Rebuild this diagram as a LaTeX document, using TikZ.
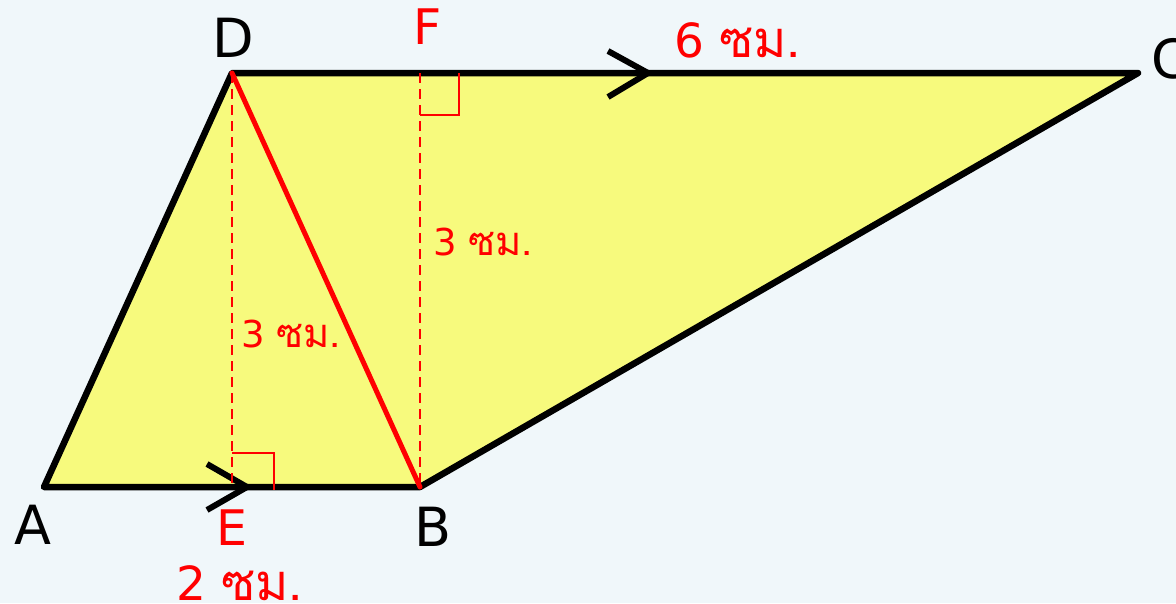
\documentclass[tikz,border=0pt]{standalone}
\usepackage{fontspec}
\setmainfont{DejaVu Sans}
\newfontfamily\thaifont[Script=Thai,Scale=1.08]{Loma}
\usetikzlibrary{positioning}
\definecolor{bgblue}{HTML}{F0F7FA}
\definecolor{padyellow}{HTML}{F7FA7D}

\begin{document}
\begin{tikzpicture}[x=1pt, y=-1pt,
  every node/.style={inner sep=0pt},
  side/.style  ={line width=6.5pt, black, line join=round},
  diag/.style  ={line width=5pt, red, line cap=round},
  height/.style={line width=1.6pt, red, dash pattern=on 10pt off 6pt},
  corner/.style={line width=1.6pt, red},
  chev/.style  ={line width=6pt, black, line join=miter},
  pt/.style    ={font=\fontsize{54}{60}\selectfont},
  redpt/.style ={font=\fontsize{49}{56}\selectfont, text=red},
  len/.style   ={font=\fontsize{47}{54}\selectfont, text=red},
  lensm/.style ={font=\fontsize{37}{42}\selectfont, text=red},
]

% Background
\fill[bgblue] (0,0) rectangle (1176,603);
\useasboundingbox (0,0) rectangle (1176,603);

% Points
\coordinate (A) at (44,487);
\coordinate (B) at (420,487);
\coordinate (C) at (1138,73);
\coordinate (D) at (232,73);
\coordinate (E) at (232,487);
\coordinate (F) at (420,73);

% Trapezium
\fill[padyellow] (A) -- (B) -- (C) -- (D) -- cycle;
\draw[side] (A) -- (B) -- (C) -- (D) -- cycle;

% Parallel marks
\coordinate (abtip) at (247,487);
\coordinate (dctip) at (648,73);
\draw[chev] ([shift={(-40,-23)}]abtip) -- (abtip) -- ([shift={(-40,23)}]abtip);
\draw[chev] ([shift={(-40,-22)}]dctip) -- (dctip) -- ([shift={(-40,24)}]dctip);

% Heights
\draw[height] (D) -- (E);
\draw[height] (F) -- (B);
\draw[corner] (232,453) -- (274,453) -- (274,490);
\draw[corner] (420,115) -- (459,115) -- (459,73);

% Diagonal
\draw[diag] (D) -- (B);

% Vertex labels
\node[pt] (lA) at (33,525) {A};
\node[pt] (lB) at (433,527) {B};
\node[pt, anchor=west] (lC) at (1151,59) {C};
\node[pt] (lD) at (233,38) {D};
\node[redpt] (lE) at (232,528) {E};
\node[redpt] (lF) at (428,27) {F};

% Lengths
\node[len, anchor=base west] (top) at (674,57) {6 {\thaifont ซม.}};
\node[len, anchor=base west] (bot) at (176,600) {2 {\thaifont ซม.}};
\node[lensm, anchor=base west] (hl) at (241,347) {3 {\thaifont ซม.}};
\node[lensm, anchor=base west] (hr) at (433,255) {3 {\thaifont ซม.}};

\end{tikzpicture}
\end{document}
